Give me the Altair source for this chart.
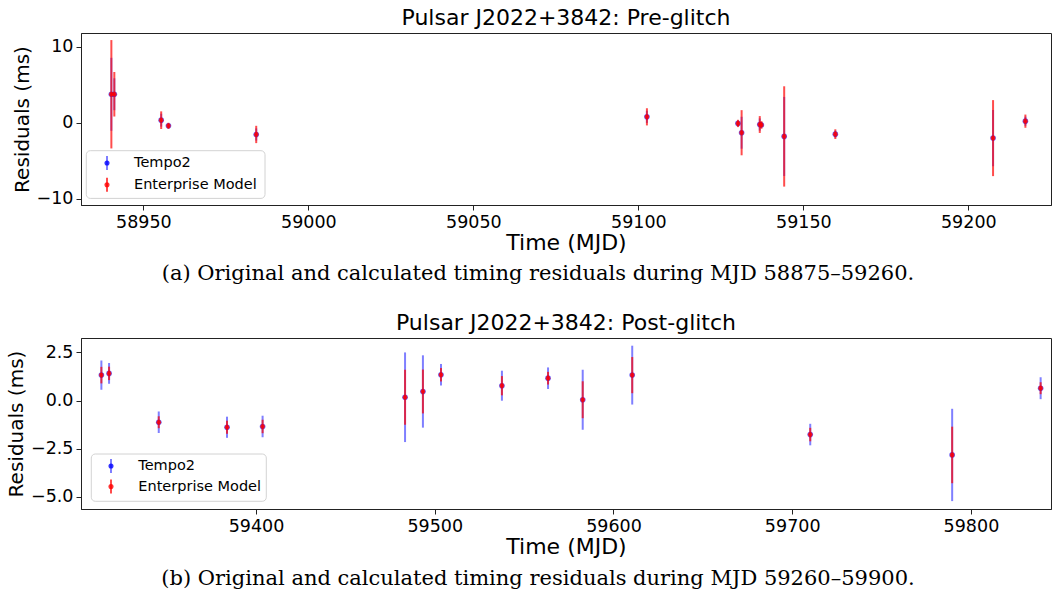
import altair as alt
import pandas as pd

# ---------------- data ----------------
top_mjd = [58940.3, 58941.2, 58955.4, 58957.6, 58984.2, 59102.6, 59130.2, 59131.3,
           59136.8, 59137.3, 59144.2, 59159.7, 59207.5, 59217.3]
top_res = [3.74, 3.74, 0.33, -0.41, -1.55, 0.77, -0.10, -1.32,
           -0.24, -0.30, -1.81, -1.51, -2.03, 0.20]
top_err_t2 = [4.8, 2.1, 0.85, 0.30, 0.80, 0.80, 0.35, 2.1,
              0.80, 0.35, 5.2, 0.45, 3.7, 0.60]
top_err_ent = [7.13, 2.93, 1.16, 0.40, 1.14, 1.13, 0.48, 2.97,
               1.11, 0.50, 6.60, 0.64, 5.00, 0.87]

bot_mjd = [59313.5, 59317.8, 59345.6, 59383.8, 59403.7, 59483.4, 59493.4, 59503.5,
           59537.6, 59563.4, 59582.8, 59610.5, 59710.1, 59789.5, 59839.0]
bot_res = [1.32, 1.41, -1.13, -1.39, -1.35, 0.17, 0.47, 1.34,
           0.77, 1.16, 0.04, 1.32, -1.77, -2.83, 0.64]
bot_err_t2 = [0.76, 0.54, 0.56, 0.55, 0.56, 2.33, 1.88, 0.56,
              0.78, 0.56, 1.56, 1.53, 0.56, 2.40, 0.57]
bot_err_ent = [0.43, 0.35, 0.31, 0.34, 0.35, 1.43, 1.14, 0.35,
               0.50, 0.33, 0.96, 0.94, 0.35, 1.47, 0.31]

series_labels = ["Tempo2", "Enterprise Model"]
series_colors = ["blue", "red"]

top_xticks = [58950, 59000, 59050, 59100, 59150, 59200]
top_yticks = [-10, 0, 10]
bot_xticks = [59400, 59500, 59600, 59700, 59800]
bot_yticks = [-5.0, -2.5, 0.0, 2.5]

top_title = "Pulsar J2022+3842: Pre-glitch"
bot_title = "Pulsar J2022+3842: Post-glitch"
top_caption = "(a) Original and calculated timing residuals during MJD 58875\u201359260."
bot_caption = "(b) Original and calculated timing residuals during MJD 59260\u201359900."

SANS = "DejaVu Sans"
SERIF = "DejaVu Serif"


def make_df(mjd, res, e1, e2):
    return pd.DataFrame({
        "mjd": mjd, "res": res,
        "lo_t2": [r - e for r, e in zip(res, e1)],
        "hi_t2": [r + e for r, e in zip(res, e1)],
        "lo_ent": [r - e for r, e in zip(res, e2)],
        "hi_ent": [r + e for r, e in zip(res, e2)],
    })


def panel(df, xdom, ydom, xticks, yticks, yfmt, title, caption, w, h,
          leg_box, leg_mx, leg_my, leg_tx, cap_x, cap_y):
    X = alt.X("mjd:Q", scale=alt.Scale(domain=xdom, nice=False, zero=False),
              axis=alt.Axis(values=xticks, format="d", title="Time (MJD)",
                            titleFontSize=22, titlePadding=2))
    yscale = alt.Scale(domain=ydom, nice=False, zero=False)
    yaxis = alt.Axis(values=yticks, format=yfmt, title="Residuals (ms)",
                     titleFontSize=20, titlePadding=4)
    base = alt.Chart(df)
    blue_rule = base.mark_rule(color="blue", opacity=0.5, strokeWidth=2).encode(
        x=X, y=alt.Y("lo_t2:Q", scale=yscale, axis=yaxis), y2="hi_t2:Q")
    blue_pt = base.mark_point(filled=True, color="blue", opacity=0.6, size=32).encode(
        x=X, y=alt.Y("res:Q", scale=yscale, axis=yaxis))
    red_rule = base.mark_rule(color="red", opacity=0.7, strokeWidth=2).encode(
        x=X, y=alt.Y("lo_ent:Q", scale=yscale, axis=yaxis), y2="hi_ent:Q")
    red_pt = base.mark_point(filled=True, color="red", opacity=0.8, size=22).encode(
        x=X, y=alt.Y("res:Q", scale=yscale, axis=yaxis))

    one = alt.Data(values=[{}])
    layers = [blue_rule, blue_pt, red_rule, red_pt]
    bx1, bx2, by1, by2 = leg_box
    layers.append(alt.Chart(one).mark_rect(
        fill="white", stroke="#cccccc", strokeWidth=1, cornerRadius=4, opacity=0.85
    ).encode(x=alt.value(bx1), x2=alt.value(bx2), y=alt.value(by1), y2=alt.value(by2)))
    for i, (lab, col) in enumerate(zip(series_labels, series_colors)):
        my = leg_my[i]
        op = 0.5 if col == "blue" else 0.7
        layers.append(alt.Chart(one).mark_rule(color=col, opacity=op, strokeWidth=2).encode(
            x=alt.value(leg_mx), y=alt.value(my - 7), y2=alt.value(my + 7)))
        layers.append(alt.Chart(one).mark_point(filled=True, color=col, opacity=0.8, size=26).encode(
            x=alt.value(leg_mx), y=alt.value(my)))
        layers.append(alt.Chart(one).mark_text(
            text=lab, font=SANS, fontSize=14.5, align="left", baseline="middle", color="black"
        ).encode(x=alt.value(leg_tx), y=alt.value(my)))
    layers.append(alt.Chart(one).mark_text(
        text=caption, font=SERIF, fontSize=21, align="center", baseline="middle", color="black"
    ).encode(x=alt.value(cap_x), y=alt.value(cap_y)))

    return alt.layer(*layers).properties(
        width=w, height=h,
        title=alt.TitleParams(text=title, fontSize=22, font=SANS, fontWeight="normal",
                              color="black", anchor="middle", frame="group", offset=3),
    )


top = panel(make_df(top_mjd, top_res, top_err_t2, top_err_ent),
            [58931.1, 59225.06], [-10.83, 11.8], top_xticks, top_yticks, "d",
            top_title, top_caption, 970, 172,
            (5.3, 184.0, 117.7, 165.4), 26.0, [130.0, 151.7], 53.0, 457, 241.0)

bot = panel(make_df(bot_mjd, bot_res, bot_err_t2, bot_err_ent),
            [59302.1, 59844.8], [-5.64, 3.25], bot_xticks, bot_yticks, ".1f",
            bot_title, bot_caption, 970, 171,
            (10.3, 185.3, 116.0, 163.3), 30.0, [128.0, 148.6], 57.3, 457, 240.5)

chart = alt.concat(top, bot, columns=1, spacing=26, align="none").properties(
    padding={"left": 6, "top": 6, "right": 0, "bottom": 0}
).configure(font=SANS).configure_view(
    stroke="#222222", strokeWidth=1
).configure_axis(
    grid=False, domainColor="#222222", domainWidth=1, tickColor="#222222", tickWidth=1,
    tickSize=5, labelFontSize=17.5, labelFont=SANS, labelColor="black",
    titleFont=SANS, titleColor="black", titleFontWeight="normal", labelPadding=3,
)

chart.save("out.html", embed_options={"renderer": "svg", "actions": False})
